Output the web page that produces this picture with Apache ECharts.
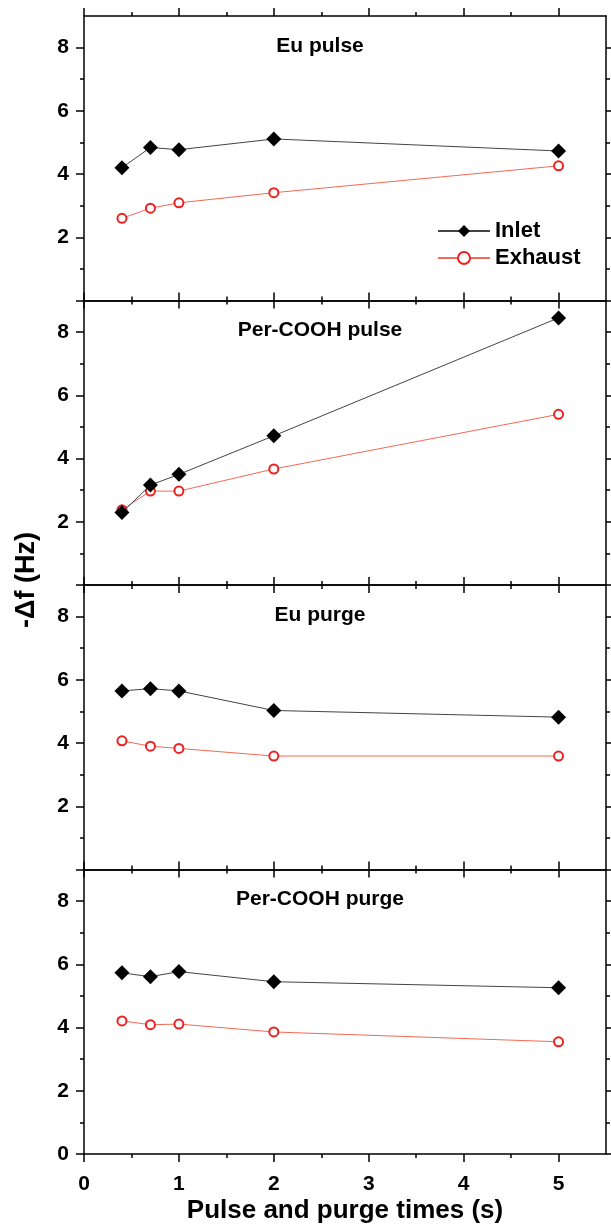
<!DOCTYPE html>
<html>
<head>
<meta charset="utf-8">
<script src="https://cdn.jsdelivr.net/npm/echarts@6/dist/echarts.min.js"></script>
<style>
  html, body { margin: 0; padding: 0; background: #fff; }
  #chart { width: 611px; height: 1227px; }
</style>
</head>
<body>
<div id="chart"></div>
<script>
// Pulse / purge times (s) shared by every panel
const times = [0.4, 0.7, 1, 2, 5];
const panelTitles = ['Eu pulse', 'Per-COOH pulse', 'Eu purge', 'Per-COOH purge'];
const seriesNames = ['Inlet', 'Exhaust'];

// -Δf (Hz) per panel, inlet and exhaust crystals
const inletEuPulse    = [4.20, 4.84, 4.77, 5.11, 4.73];
const exhaustEuPulse  = [2.60, 2.92, 3.09, 3.41, 4.26];
const inletPerPulse   = [2.29, 3.16, 3.50, 4.72, 8.45];
const exhaustPerPulse = [2.38, 2.97, 2.97, 3.67, 5.40];
const inletEuPurge    = [5.65, 5.72, 5.65, 5.03, 4.82];
const exhaustEuPurge  = [4.07, 3.90, 3.83, 3.59, 3.59];
const inletPerPurge   = [5.73, 5.61, 5.77, 5.45, 5.26];
const exhaustPerPurge = [4.21, 4.09, 4.11, 3.86, 3.55];

// Axis ticks and labels
const xMajorTicks = [0, 1, 2, 3, 4, 5];
const xMinorTicks = [0.5, 1.5, 2.5, 3.5, 4.5];
const yMajorTicks = [0, 2, 4, 6, 8];
const yMinorTicks = [1, 3, 5, 7];
const yLabelsStacked = [2, 4, 6, 8];      // upper panels leave 0 unlabelled
const yLabelsBottom = [0, 2, 4, 6, 8];

const inletPanels = [inletEuPulse, inletPerPulse, inletEuPurge, inletPerPurge];
const exhaustPanels = [exhaustEuPulse, exhaustPerPulse, exhaustEuPurge, exhaustPerPurge];

const FONT = '"Liberation Sans", Arial, sans-serif';
const PLOT_LEFT = 84, PLOT_RIGHT = 5, PLOT_TOP = 16, PANEL_H = 284.5;
const X_MAX = 5.5, Y_MAX = 9;
const AX = { color: '#000', width: 1.5 };

const chart = echarts.init(document.getElementById('chart'), null, { renderer: 'canvas' });

const grids = [], xAxes = [], yAxes = [], series = [], graphics = [];

function xAxis(g, pos, ticks, len, showLine, labels) {
  return {
    type: 'value', gridIndex: g, position: pos, min: 0, max: X_MAX,
    axisLine: { show: showLine, onZero: false, lineStyle: AX },
    axisTick: { show: true, inside: false, length: len, customValues: ticks, lineStyle: AX },
    axisLabel: {
      show: !!labels, customValues: labels || ticks, margin: 20,
      fontFamily: FONT, fontSize: 21, fontWeight: 'bold', color: '#000'
    },
    splitLine: { show: false }
  };
}

function yAxis(g, pos, ticks, len, showLine, labels) {
  return {
    type: 'value', gridIndex: g, position: pos, min: 0, max: Y_MAX,
    axisLine: { show: showLine, onZero: false, lineStyle: AX },
    axisTick: { show: true, inside: false, length: len, customValues: ticks, lineStyle: AX },
    axisLabel: {
      show: !!labels, customValues: labels || ticks, margin: 15,
      fontFamily: FONT, fontSize: 21, fontWeight: 'bold', color: '#000'
    },
    splitLine: { show: false }
  };
}

for (let i = 0; i < 4; i++) {
  const top = PLOT_TOP + i * PANEL_H;
  grids.push({ left: PLOT_LEFT, right: PLOT_RIGHT, top: top, height: PANEL_H, containLabel: false });

  const last = i === 3;
  const xb = xAxis(i, 'bottom', xMajorTicks, 8, true, last ? xMajorTicks : null);
  if (last) {
    xb.name = 'Pulse and purge times (s)';
    xb.nameLocation = 'middle';
    xb.nameGap = 44;
    xb.nameTextStyle = { fontFamily: FONT, fontSize: 26, fontWeight: 'bold', color: '#000' };
  }
  xAxes.push(xb,
             xAxis(i, 'bottom', xMinorTicks, 4, false, null),
             xAxis(i, 'top', xMajorTicks, 8, true, null),
             xAxis(i, 'top', xMinorTicks, 4, false, null));
  yAxes.push(yAxis(i, 'left', yMajorTicks, 8, true, last ? yLabelsBottom : yLabelsStacked),
             yAxis(i, 'left', yMinorTicks, 4, false, null),
             yAxis(i, 'right', yMajorTicks, 8, true, null),
             yAxis(i, 'right', yMinorTicks, 4, false, null));

  series.push({
    name: seriesNames[0], type: 'line', xAxisIndex: i * 4, yAxisIndex: i * 4,
    data: times.map((t, k) => [t, inletPanels[i][k]]),
    symbol: 'diamond', symbolSize: 15,
    itemStyle: { color: '#000' },
    lineStyle: { color: '#444', width: 1 },
    z: 3
  });
  series.push({
    name: seriesNames[1], type: 'line', xAxisIndex: i * 4, yAxisIndex: i * 4,
    data: times.map((t, k) => [t, exhaustPanels[i][k]]),
    symbol: 'circle', symbolSize: 9,
    itemStyle: { color: '#fff', borderColor: '#ee2020', borderWidth: 2 },
    lineStyle: { color: '#f36a55', width: 1 },
    z: 2
  });

  graphics.push({
    type: 'text', x: 320, y: top + 30,
    style: {
      text: panelTitles[i], textAlign: 'center', textVerticalAlign: 'middle',
      font: 'bold 21px ' + FONT, fill: '#000'
    }
  });
}

// Shared y-axis title, rotated along the left edge
graphics.push({
  type: 'text', x: 27, y: 580, rotation: Math.PI / 2,
  style: {
    text: '-\u0394f (Hz)', textAlign: 'center', textVerticalAlign: 'middle',
    font: 'bold 27px ' + FONT, fill: '#000'
  }
});

chart.setOption({
  animation: false,
  backgroundColor: '#fff',
  grid: grids,
  xAxis: xAxes,
  yAxis: yAxes,
  series: series,
  legend: {
    data: seriesNames, orient: 'vertical', left: 432, top: 215,
    itemWidth: 52, itemHeight: 15, itemGap: 5,
    textStyle: { fontFamily: FONT, fontSize: 22, fontWeight: 'bold', color: '#000' }
  },
  graphic: graphics
});
</script>
</body>
</html>
